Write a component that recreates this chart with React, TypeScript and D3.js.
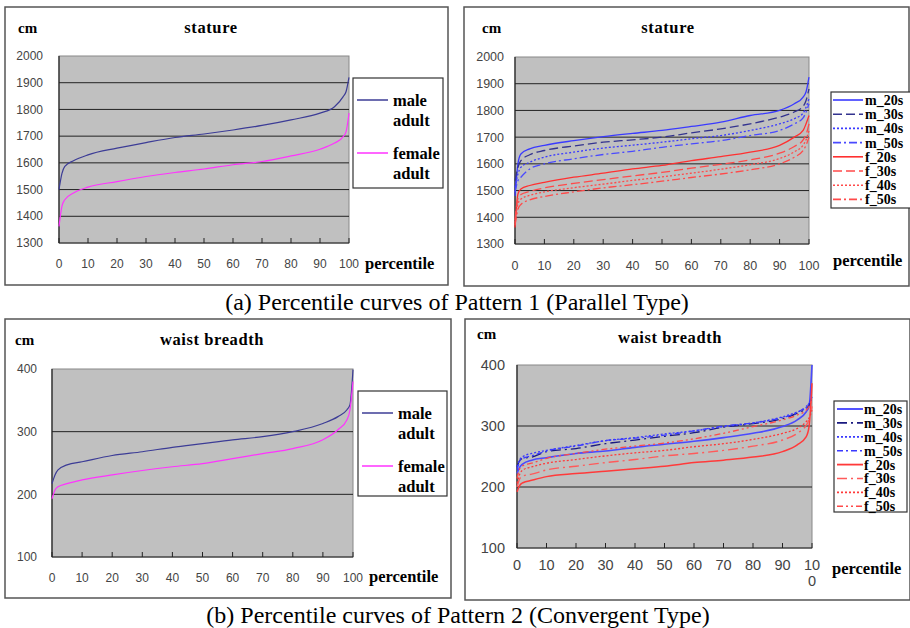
import React, { useEffect, useRef } from 'react';
import * as d3 from 'd3';

const PCT = [0, 1, 2, 5, 10, 20, 30, 40, 50, 60, 70, 80, 90, 95, 98, 99, 100];
const X_TICKS = [0, 10, 20, 30, 40, 50, 60, 70, 80, 90, 100];

// (a) stature, adults
const statureMale = [1500, 1560, 1587, 1608, 1630, 1655, 1676, 1695, 1708, 1723, 1740, 1761, 1786, 1810, 1848, 1867, 1920];
const statureFemale = [1362, 1437, 1462, 1487, 1509, 1530, 1549, 1564, 1577, 1593, 1605, 1626, 1651, 1674, 1698, 1717, 1786];

// (a) stature, by age group
const statureM20 = [1480, 1600, 1637, 1656, 1669, 1687, 1702, 1714, 1725, 1740, 1756, 1781, 1800, 1825, 1850, 1870, 1925];
const statureM30 = [1537, 1587, 1612, 1634, 1650, 1667, 1681, 1690, 1700, 1716, 1731, 1750, 1775, 1794, 1815, 1837, 1881];
const statureM40 = [1512, 1562, 1587, 1606, 1625, 1644, 1659, 1670, 1681, 1694, 1706, 1725, 1750, 1769, 1790, 1812, 1844];
const statureM50 = [1494, 1537, 1550, 1581, 1600, 1619, 1635, 1647, 1662, 1675, 1687, 1706, 1725, 1750, 1772, 1794, 1825];
const statureF20 = [1362, 1487, 1506, 1519, 1531, 1550, 1565, 1581, 1594, 1612, 1627, 1644, 1669, 1700, 1725, 1750, 1781];
const statureF30 = [1390, 1470, 1485, 1497, 1510, 1527, 1541, 1555, 1568, 1584, 1598, 1615, 1640, 1665, 1690, 1710, 1750];
const statureF40 = [1380, 1450, 1468, 1482, 1495, 1511, 1524, 1538, 1551, 1565, 1580, 1597, 1620, 1645, 1670, 1690, 1725];
const statureF50 = [1370, 1430, 1448, 1465, 1478, 1495, 1510, 1522, 1535, 1549, 1562, 1578, 1600, 1625, 1650, 1670, 1700];

// (b) waist breadth, adults
const waistMale = [217, 231, 239, 247, 252, 262, 268, 275, 281, 287, 292, 300, 313, 324, 335, 343, 399];
const waistFemale = [193, 207, 212, 217, 223, 231, 238, 244, 249, 257, 265, 273, 287, 303, 319, 335, 380];

// (b) waist breadth, by age group
const waistM20 = [222, 233, 238, 244, 248, 255, 259, 265, 270, 275, 281, 288, 299, 310, 323, 332, 400];
const waistM30 = [233, 244, 247, 249, 258, 263, 271, 277, 283, 289, 298, 304, 312, 321, 329, 334, 348];
const waistM40 = [233, 245, 250, 255, 260, 268, 276, 281, 287, 292, 299, 305, 315, 323, 330, 337, 348];
const waistM50 = [228, 243, 247, 251, 259, 267, 276, 280, 285, 292, 300, 305, 314, 322, 332, 337, 348];
const waistF20 = [192, 203, 207, 211, 217, 222, 226, 230, 234, 240, 244, 249, 258, 269, 282, 299, 370];
const waistF30 = [200, 214, 218, 221, 228, 234, 240, 245, 251, 255, 260, 267, 277, 288, 301, 310, 332];
const waistF40 = [206, 222, 228, 233, 239, 245, 251, 256, 260, 266, 271, 278, 288, 296, 307, 313, 326];
const waistF50 = [214, 231, 235, 239, 247, 255, 262, 267, 272, 279, 288, 299, 310, 318, 326, 332, 343];

const AGE_LABELS = ['m_20s', 'm_30s', 'm_40s', 'm_50s', 'f_20s', 'f_30s', 'f_40s', 'f_50s'];
const ADULT_LABELS = [['male', 'adult'], ['female', 'adult']];

const SERIF = '"Liberation Serif", "Times New Roman", serif';
const SANS = '"Liberation Sans", Arial, sans-serif';

const ageStyles = [
  { color: '#3a3aff', dash: null, w: 1.3 },
  { color: '#33338f', dash: '9,4', w: 1.3 },
  { color: '#3a3aff', dash: '2,2', w: 1.3 },
  { color: '#4a4aff', dash: '8,3,2,3', w: 1.3 },
  { color: '#ff3030', dash: null, w: 1.3 },
  { color: '#ff4a4a', dash: '9,4', w: 1.3 },
  { color: '#ff4a4a', dash: '2,2', w: 1.3 },
  { color: '#ff4a4a', dash: '8,3,2,3', w: 1.3 },
];
const ageStylesB = [
  { color: '#4a4aff', dash: null, w: 1.6 },
  { color: '#1a1a80', dash: '10,4,2,4', w: 1.3 },
  { color: '#3a3aff', dash: '2,2', w: 1.4 },
  { color: '#3a3aff', dash: '6,3,2,3', w: 1.3 },
  { color: '#ff3a3a', dash: null, w: 1.5 },
  { color: '#ff5a5a', dash: '10,4,2,4', w: 1.4 },
  { color: '#ff3a3a', dash: '2,2', w: 1.3 },
  { color: '#ff4a4a', dash: '6,3,2,3,2,3', w: 1.3 },
];

function drawPanel(root, cfg) {
  const g = root.append('g');

  // outer box
  g.append('rect')
    .attr('x', cfg.box[0]).attr('y', cfg.box[1])
    .attr('width', cfg.box[2]).attr('height', cfg.box[3])
    .attr('fill', '#fff').attr('stroke', '#555').attr('stroke-width', 1.5);

  const [px0, py0, px1, py1] = cfg.plot;
  const x = d3.scaleLinear().domain([0, 100]).range([px0, px1]);
  const y = d3.scaleLinear().domain(cfg.yDomain).range([py1, py0]);

  g.append('rect')
    .attr('x', px0).attr('y', py0)
    .attr('width', px1 - px0).attr('height', py1 - py0)
    .attr('fill', '#c0c0c0').attr('stroke', '#888').attr('stroke-width', 1);

  const yTicks = d3.range(cfg.yDomain[0], cfg.yDomain[1] + 1, cfg.yStep);

  // horizontal gridlines
  g.append('g').selectAll('line')
    .data(yTicks.filter(t => t > cfg.yDomain[0] && t < cfg.yDomain[1]))
    .enter().append('line')
    .attr('x1', px0).attr('x2', px1)
    .attr('y1', d => y(d)).attr('y2', d => y(d))
    .attr('stroke', '#222').attr('stroke-width', 1);

  // axes lines
  g.append('line').attr('x1', px0).attr('x2', px1).attr('y1', py1).attr('y2', py1)
    .attr('stroke', '#222').attr('stroke-width', 1.2);
  g.append('line').attr('x1', px0).attr('x2', px0).attr('y1', py0).attr('y2', py1)
    .attr('stroke', '#222').attr('stroke-width', 1.2);

  // x ticks (inside)
  g.append('g').selectAll('line')
    .data(X_TICKS)
    .enter().append('line')
    .attr('x1', d => x(d)).attr('x2', d => x(d))
    .attr('y1', py1).attr('y2', py1 - 5)
    .attr('stroke', '#222');

  // y tick labels
  g.append('g').selectAll('text')
    .data(yTicks)
    .enter().append('text')
    .attr('x', px0 - cfg.yLabelGap).attr('y', d => y(d))
    .attr('dy', '0.35em')
    .attr('text-anchor', 'end')
    .attr('font-family', SANS).attr('font-size', cfg.tickSize)
    .attr('fill', '#444')
    .text(d => d);

  // x tick labels
  const xl = g.append('g').selectAll('text')
    .data(X_TICKS)
    .enter().append('text')
    .attr('x', d => x(d)).attr('y', cfg.xLabelY)
    .attr('text-anchor', 'middle')
    .attr('font-family', SANS).attr('font-size', cfg.tickSize)
    .attr('fill', '#444');
  xl.each(function (d) {
    const t = d3.select(this);
    if (d === 100 && cfg.splitHundred) {
      t.append('tspan').attr('x', x(d)).text('10');
      t.append('tspan').attr('x', x(d)).attr('dy', cfg.tickSize + 1).text('0');
    } else {
      t.text(d);
    }
  });

  // titles
  g.append('text').attr('x', cfg.cm[0]).attr('y', cfg.cm[1])
    .attr('font-family', SERIF).attr('font-weight', 'bold').attr('font-size', 15)
    .text('cm');
  g.append('text').attr('x', cfg.title[0]).attr('y', cfg.title[1])
    .attr('text-anchor', 'middle')
    .attr('font-family', SERIF).attr('font-weight', 'bold').attr('font-size', 16.5)
    .attr('letter-spacing', 0.6)
    .text(cfg.titleText);
  g.append('text').attr('x', cfg.pct[0]).attr('y', cfg.pct[1])
    .attr('font-family', SERIF).attr('font-weight', 'bold').attr('font-size', 16.5)
    .text('percentile');

  // curves
  const line = d3.line()
    .x((d, i) => x(PCT[i]))
    .y(d => y(d))
    .curve(d3.curveMonotoneX);

  g.append('defs').append('clipPath').attr('id', cfg.id + '-clip')
    .append('rect').attr('x', px0 - 2).attr('y', py0 - 1)
    .attr('width', px1 - px0 + 4).attr('height', py1 - py0 + 2);

  g.append('g').attr('clip-path', `url(#${cfg.id}-clip)`)
    .selectAll('path')
    .data(cfg.series)
    .enter().append('path')
    .attr('d', d => line(d.values))
    .attr('fill', 'none')
    .attr('stroke', d => d.color)
    .attr('stroke-width', d => d.w)
    .attr('stroke-dasharray', d => d.dash);

  // legend
  const lg = cfg.legend;
  g.append('rect')
    .attr('x', lg.box[0]).attr('y', lg.box[1])
    .attr('width', lg.box[2]).attr('height', lg.box[3])
    .attr('fill', '#fff').attr('stroke', '#333').attr('stroke-width', 1.2);

  const items = g.append('g').selectAll('g')
    .data(cfg.series)
    .enter().append('g')
    .attr('transform', (d, i) => `translate(0,${lg.y0 + i * lg.step})`);
  items.append('line')
    .attr('x1', lg.lineX[0]).attr('x2', lg.lineX[1])
    .attr('stroke', d => d.color)
    .attr('stroke-width', d => d.w + 0.3)
    .attr('stroke-dasharray', d => d.dash);
  items.append('text')
    .attr('x', lg.textX)
    .attr('font-family', SERIF).attr('font-weight', 'bold').attr('font-size', lg.fontSize)
    .each(function (d) {
      const t = d3.select(this);
      const lines = Array.isArray(d.label) ? d.label : [d.label];
      lines.forEach((s, k) => {
        t.append('tspan').attr('x', lg.textX).attr('dy', k === 0 ? '0.35em' : lg.lineGap).text(s);
      });
    });
}

function App() {
  const ref = useRef(null);

  useEffect(() => {
    const svg = d3.select(ref.current);
    svg.selectAll('*').remove();

    drawPanel(svg, {
      id: 'p1', box: [5, 7, 443, 278], plot: [59, 56, 349, 243],
      yDomain: [1300, 2000], yStep: 100, yLabelGap: 16, tickSize: 12, xLabelY: 268,
      cm: [18, 33], title: [211, 33], titleText: 'stature', pct: [365, 269],
      series: [
        { label: ADULT_LABELS[0], values: statureMale, color: '#3c3c96', dash: null, w: 1.2 },
        { label: ADULT_LABELS[1], values: statureFemale, color: '#ff33ff', dash: null, w: 1.2 },
      ],
      legend: { box: [353, 78, 90, 110], y0: 100, step: 53, lineX: [357, 388], textX: 393, fontSize: 16.5, lineGap: 20 },
    });

    drawPanel(svg, {
      id: 'p2', box: [464, 7, 445, 279], plot: [515, 57, 809, 244],
      yDomain: [1300, 2000], yStep: 100, yLabelGap: 11, tickSize: 12.5, xLabelY: 270,
      cm: [482, 33], title: [668, 33], titleText: 'stature', pct: [833, 266],
      series: [statureM20, statureM30, statureM40, statureM50, statureF20, statureF30, statureF40, statureF50]
        .map((v, i) => ({ label: AGE_LABELS[i], values: v, ...ageStyles[i] })),
      legend: { box: [831, 92, 80, 116], y0: 100, step: 14.2, lineX: [833, 863], textX: 865, fontSize: 14, lineGap: 14 },
    });

    drawPanel(svg, {
      id: 'p3', box: [5, 319, 446, 279], plot: [52, 369, 353, 557],
      yDomain: [100, 400], yStep: 100, yLabelGap: 15, tickSize: 12, xLabelY: 582,
      cm: [15, 345], title: [212, 345], titleText: 'waist breadth', pct: [369, 582],
      series: [
        { label: ADULT_LABELS[0], values: waistMale, color: '#3c3c96', dash: null, w: 1.2 },
        { label: ADULT_LABELS[1], values: waistFemale, color: '#ff33ff', dash: null, w: 1.2 },
      ],
      legend: { box: [358, 391, 89, 105], y0: 413, step: 53, lineX: [362, 393], textX: 398, fontSize: 16.5, lineGap: 20 },
    });

    drawPanel(svg, {
      id: 'p4', box: [465, 319, 445, 281], plot: [517, 365, 812, 548],
      yDomain: [100, 400], yStep: 100, yLabelGap: 12, tickSize: 14.5, xLabelY: 570,
      splitHundred: true,
      cm: [477, 339], title: [670, 343], titleText: 'waist breadth', pct: [832, 574],
      series: [waistM20, waistM30, waistM40, waistM50, waistF20, waistF30, waistF40, waistF50]
        .map((v, i) => ({ label: AGE_LABELS[i], values: v, ...ageStylesB[i] })),
      legend: { box: [834, 401, 73, 111], y0: 409, step: 13.9, lineX: [837, 863], textX: 864, fontSize: 14, lineGap: 14 },
    });

    // figure captions
    svg.append('text').attr('x', 457).attr('y', 310)
      .attr('text-anchor', 'middle')
      .attr('font-family', SERIF).attr('font-size', 24)
      .text('(a) Percentile curves of Pattern 1 (Parallel Type)');
    svg.append('text').attr('x', 458).attr('y', 623)
      .attr('text-anchor', 'middle')
      .attr('font-family', SERIF).attr('font-size', 24)
      .text('(b) Percentile curves of Pattern 2 (Convergent Type)');
  }, []);

  return (
    <svg ref={ref} width={910} height={628}
      style={{ position: 'absolute', left: 0, top: 0, background: '#fff' }} />
  );
}

export default App;
